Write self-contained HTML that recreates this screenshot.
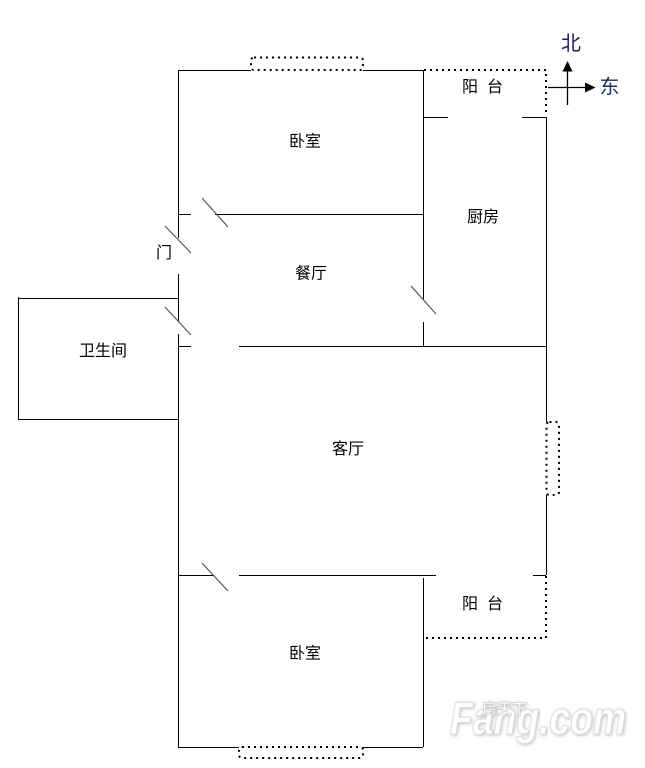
<!DOCTYPE html>
<html><head><meta charset="utf-8"><style>
html,body{margin:0;padding:0;background:#fff;}
svg{display:block;}
text{font-family:"Liberation Sans","Noto Sans CJK SC","WenQuanYi Zen Hei",sans-serif;}
</style></head><body>
<svg width="645" height="768" viewBox="0 0 645 768" xmlns="http://www.w3.org/2000/svg">
<defs>
<filter id="sh" x="-10%" y="-20%" width="120%" height="140%">
<feGaussianBlur in="SourceAlpha" stdDeviation="1.5"/>
<feOffset dx="1" dy="1" result="b"/>
<feFlood flood-color="#999" flood-opacity="0.6"/>
<feComposite in2="b" operator="in"/>
<feMerge><feMergeNode/><feMergeNode in="SourceGraphic"/></feMerge>
</filter>
</defs>
<g stroke="#000" stroke-width="1" fill="none">
<!-- top wall -->
<path d="M178 70.5H251M363 70.5H423"/>
<!-- left wall -->
<path d="M178.5 70V238M178.5 274V322M178.5 334V747"/>
<!-- vertical x=423 -->
<path d="M423.5 70V299M423.5 322V346"/>
<!-- kitchen top -->
<path d="M423 117.5H448M522 117.5H546"/>
<!-- right wall -->
<path d="M546.5 117V422M546.5 495V575"/>
<!-- dining top -->
<path d="M178 214.5H191M215 214.5H423"/>
<!-- bathroom -->
<path d="M18.5 297V419.5H178M18 298.5H178"/>
<!-- living top -->
<path d="M178 346.5H191M239 346.5H546"/>
<!-- living bottom -->
<path d="M178 575.5H214M239 575.5H436M533 575.5H546"/>
<!-- bottom bedroom right -->
<path d="M423.5 578V747"/>
<!-- bottom wall -->
<path d="M178 747.5H239M363 747.5H423"/>
</g>
<!-- doors -->
<g stroke="#555" stroke-width="1.2" fill="none">
<line x1="202" y1="198" x2="228" y2="227"/>
<line x1="165" y1="226" x2="191" y2="253"/>
<line x1="165" y1="307" x2="191" y2="335"/>
<line x1="411" y1="286" x2="436" y2="314"/>
<line x1="202" y1="563" x2="228" y2="591"/>
</g>
<!-- dotted -->
<g stroke="#000" stroke-width="2" fill="none" stroke-dasharray="2 4">
<rect x="251" y="57.5" width="112" height="12.5" rx="3"/>
<path d="M424 70H546V115"/>
<rect x="546.5" y="422" width="12.5" height="73" rx="3"/>
<path d="M546 576V638H424"/>
<rect x="239" y="747" width="124" height="11" rx="3"/>
</g>
<!-- compass -->
<g stroke="#000" stroke-width="1.3" fill="none">
<line x1="567.5" y1="68" x2="567.5" y2="105"/>
<line x1="548" y1="87.5" x2="588" y2="87.5"/>
</g>
<polygon points="567.5,61 562.5,71.5 572.5,71.5" fill="#000"/>
<polygon points="595.5,87.5 585,82.5 585,92.5" fill="#000"/>
<text x="561" y="44" font-size="20" fill="#1f1f5a" dominant-baseline="central">北</text>
<text x="599.5" y="87.5" font-size="20" fill="#1f2a5e" dominant-baseline="central">东</text>
<!-- labels -->
<g font-size="16" fill="#000" dominant-baseline="central">
<text x="462" y="87.5">阳</text><text x="487" y="87.5">台</text>
<text x="289" y="142">卧室</text>
<text x="467" y="217.5">厨房</text>
<text x="156" y="253.5">门</text>
<text x="295" y="274">餐厅</text>
<text x="79" y="351.5">卫生间</text>
<text x="332" y="449.5">客厅</text>
<text x="462" y="604.5">阳</text><text x="487" y="604.5">台</text>
<text x="289" y="654">卧室</text>
</g>
<!-- watermark -->
<g filter="url(#sh)">
<text x="450" y="734" font-size="46" font-weight="bold" font-style="italic" fill="#fff" stroke="#dcdcdc" stroke-width="1" textLength="176" lengthAdjust="spacingAndGlyphs">Fang.com</text>
<text x="482" y="714" font-size="15" font-weight="bold" fill="#fff" stroke="#cfcfcf" stroke-width="0.8" dominant-baseline="alphabetic">房天下</text>
</g>
</svg>
</body></html>
